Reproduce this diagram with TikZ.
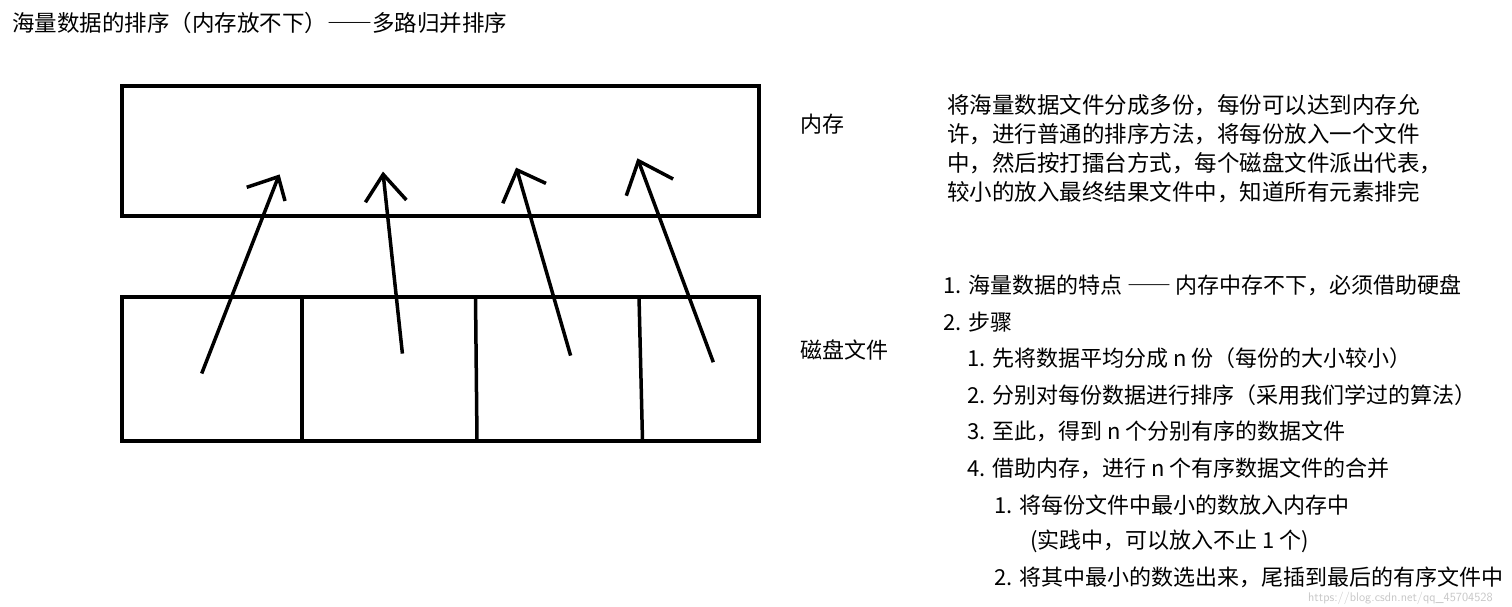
\documentclass[tikz,border=0pt]{standalone}
\usepackage{fontspec}
\newfontfamily\cjk{Noto Sans CJK SC}
\newcommand{\fwdash}{{\addfontfeatures{CharacterWidth=Full}——}}
\begin{document}
\begin{tikzpicture}[x=1pt,y=-1pt,
  box/.style={draw=black,line width=4pt},
  divider/.style={draw=black,line width=3.5pt},
  arr/.style={draw=black,line width=3.5pt},
  titletxt/.style={anchor=west,inner sep=0pt,font=\cjk\fontsize{22.5}{22.5}\selectfont},
  paratxt/.style={anchor=west,inner sep=0pt,font=\cjk\fontsize{22.5}{22.5}\selectfont},
  labeltxt/.style={anchor=west,inner sep=0pt,font=\cjk\fontsize{22}{22}\selectfont},
  listtxt/.style={anchor=west,inner sep=0pt,font=\cjk\fontsize{22}{22}\selectfont},
  wmtxt/.style={anchor=west,inner sep=0pt,text=black!22,font=\sffamily\fontsize{12.5}{12.5}\selectfont}]
\useasboundingbox[fill=white] (0,0) rectangle (1512,607);

% title
\node[titletxt] (title) at (12,23) {海量数据的排序（内存放不下）\fwdash 多路归并排序};

% memory box
\draw[box] (122,86) rectangle (759,216);
% disk box
\draw[box] (122,296.5) rectangle (759,440.5);
\coordinate (d1t) at (302,296.5); \coordinate (d1b) at (302,442);
\coordinate (d2t) at (475.5,296.5); \coordinate (d2b) at (477,440.5);
\coordinate (d3t) at (639,296.5); \coordinate (d3b) at (642.5,440.5);
\draw[divider] (d1t) -- (d1b);
\draw[divider] (d2t) -- (d2b);
\draw[divider] (d3t) -- (d3b);

% arrows (hand drawn)
\coordinate (t1) at (201.7,373.5); \coordinate (h1) at (278.4,176.7);
\coordinate (a1) at (246.7,187.3); \coordinate (b1) at (285,201);
\coordinate (t2) at (402.4,353.6); \coordinate (h2) at (383.2,174.4);
\coordinate (a2) at (365.4,202.3); \coordinate (b2) at (406.4,200);
\coordinate (t3) at (570.6,355.6); \coordinate (h3) at (517,170);
\coordinate (a3) at (502.8,203.3); \coordinate (b3) at (546,183.4);
\coordinate (t4) at (713.3,362.2); \coordinate (h4) at (638.4,160.8);
\coordinate (a4) at (626.3,195.7); \coordinate (b4) at (673.1,179);
\foreach \i in {1,2,3,4}{
  \draw[arr] (t\i) -- (h\i);
  \draw[arr,line join=miter] (a\i) -- (h\i) -- (b\i);
}

% labels
\node[labeltxt] (mem) at (800,124) {内存};
\node[labeltxt] (disk) at (800,350) {磁盘文件};

% paragraph
\node[paratxt] (p1) at (947,105) {将海量数据文件分成多份，每份可以达到内存允};
\node[paratxt] (p2) at (947,134) {许，进行普通的排序方法，将每份放入一个文件};
\node[paratxt] (p3) at (947,163) {中，然后按打擂台方式，每个磁盘文件派出代表，};
\node[paratxt] (p4) at (947,192) {较小的放入最终结果文件中，知道所有元素排完};

% list
\node[listtxt] (l1) at (943,285) {1. 海量数据的特点 \fwdash{} 内存中存不下，必须借助硬盘};
\node[listtxt] (l2) at (943,322) {2. 步骤};
\node[listtxt] (l3) at (967,358) {1. 先将数据平均分成 n 份（每份的大小较小）};
\node[listtxt] (l4) at (967,395) {2. 分别对每份数据进行排序（采用我们学过的算法）};
\node[listtxt] (l5) at (967,431) {3. 至此，得到 n 个分别有序的数据文件};
\node[listtxt] (l6) at (967,468) {4. 借助内存，进行 n 个有序数据文件的合并};
\node[listtxt] (l7) at (994,505) {1. 将每份文件中最小的数放入内存中};
\node[listtxt] (l8) at (1030,541) {(实践中，可以放入不止 1 个)};
\node[listtxt] (l9) at (994,577) {2. 将其中最小的数选出来，尾插到最后的有序文件中};

% watermark
\node[wmtxt] (wm) at (1308,598) {https://blog.csdn.net/qq\_45704528};
\end{tikzpicture}
\end{document}
